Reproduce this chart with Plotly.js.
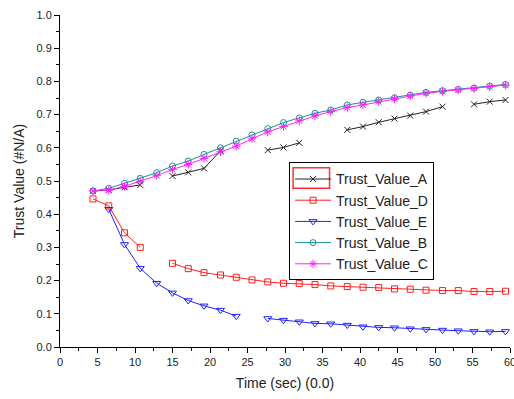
<!DOCTYPE html>
<html><head><meta charset="utf-8">
<script src="https://cdn.plot.ly/plotly-3.0.1.min.js"></script>
<style>html,body{margin:0;padding:0;background:#fff}#chart{width:514px;height:399px}</style>
</head><body><div id="chart"></div>
<script>
var time = [4.4,6.5,8.6,10.7,12.9,15.0,17.1,19.2,21.4,23.5,25.6,27.7,29.8,31.9,34.0,36.1,38.3,40.4,42.5,44.6,46.7,48.8,51.0,53.1,55.2,57.3,59.4];
var trustA = [0.47,0.473,0.481,0.488,null,0.515,0.526,0.538,0.591,null,null,0.593,0.601,0.615,null,null,0.654,0.664,0.677,0.688,0.697,0.709,0.724,null,0.731,0.739,0.744];
var trustD = [0.446,0.425,0.344,0.30,null,0.252,0.236,0.224,0.217,0.21,0.202,0.196,0.192,0.191,0.188,0.184,0.182,0.18,0.179,0.175,0.174,0.171,0.17,0.17,0.167,0.167,0.168];
var trustE = [null,0.415,0.309,0.237,0.192,0.163,0.14,0.124,0.111,0.093,null,0.086,0.081,0.076,0.071,0.07,0.066,0.061,0.059,0.058,0.055,0.053,0.051,0.049,0.047,0.046,0.047];
var trustB = [0.47,0.478,0.493,0.508,0.525,0.545,0.56,0.58,0.60,0.62,0.639,0.658,0.676,0.69,0.704,0.714,0.729,0.737,0.744,0.751,0.759,0.767,0.772,0.776,0.78,0.786,0.791];
var trustC = [0.47,0.472,0.484,0.499,0.516,0.535,0.55,0.568,0.588,0.605,0.627,0.648,0.664,0.681,0.696,0.709,0.721,0.729,0.739,0.747,0.756,0.764,0.77,0.774,0.778,0.784,0.789];
var names = ['Trust_Value_A','Trust_Value_D','Trust_Value_E','Trust_Value_B','Trust_Value_C'];

function tr(y, name, color, symbol, size, rank){
  return {x: time, y: y, name: name, type: 'scatter', mode: 'lines+markers',
    connectgaps: false, legendrank: rank,
    line: {color: color, width: 1},
    marker: {symbol: symbol, size: size, color: color, line: {color: color, width: 1}}};
}
var data = [
  tr(trustD, names[1], '#ff2020', 'square-open', 6, 2),
  tr(trustE, names[2], '#2020ff', 'triangle-down-open', 7, 3),
  tr(trustA, names[0], '#222222', 'x-thin-open', 6, 1),
  tr(trustB, names[3], '#1a9090', 'circle-open', 6, 4),
  tr(trustC, names[4], '#ff20ff', 'asterisk-open', 7, 5)
];
var axFont = {family: 'Liberation Sans, Arial, sans-serif', size: 11, color: '#222'};
var layout = {
  width: 514, height: 399,
  margin: {l: 60, r: 4, t: 15, b: 52},
  paper_bgcolor: '#fff', plot_bgcolor: '#fff',
  showlegend: true,
  xaxis: {range: [0, 60], dtick: 5, tick0: 0, showgrid: false, zeroline: false,
    showline: true, linecolor: '#000', linewidth: 1, ticks: 'outside', ticklen: 5, tickcolor: '#000',
    minor: {dtick: 2.5, ticks: 'outside', ticklen: 3, tickcolor: '#000'},
    tickfont: axFont, automargin: false, ticklabeloverflow: 'allow',
    title: {text: 'Time (sec) (0.0)', font: {family: 'Liberation Sans, Arial, sans-serif', size: 14, color: '#222'}, standoff: 10}},
  yaxis: {range: [0, 1], dtick: 0.1, tick0: 0, tickformat: '.1f', showgrid: false, zeroline: false,
    showline: true, linecolor: '#000', linewidth: 1, ticks: 'outside', ticklen: 5, tickcolor: '#000',
    minor: {dtick: 0.05, ticks: 'outside', ticklen: 3, tickcolor: '#000'},
    tickfont: axFont, automargin: false, ticklabeloverflow: 'allow',
    title: {text: 'Trust Value (#N/A)', font: {family: 'Liberation Sans, Arial, sans-serif', size: 14, color: '#222'}, standoff: 8}},
  legend: {x: 0.509, y: 0.556, xanchor: 'left', yanchor: 'top',
    bgcolor: 'rgba(0,0,0,0)', bordercolor: '#000', borderwidth: 1,
    font: {family: 'Liberation Sans, Arial, sans-serif', size: 14, color: '#222'},
    itemwidth: 36, tracegroupgap: 0},
  shapes: [{type: 'rect', xref: 'paper', yref: 'paper', x0: 0.518, x1: 0.599, y0: 0.478, y1: 0.540,
    line: {color: '#ff3030', width: 1.5}, layer: 'above'}]
};
Plotly.newPlot('chart', data, layout, {staticPlot: true});
</script></body></html>
